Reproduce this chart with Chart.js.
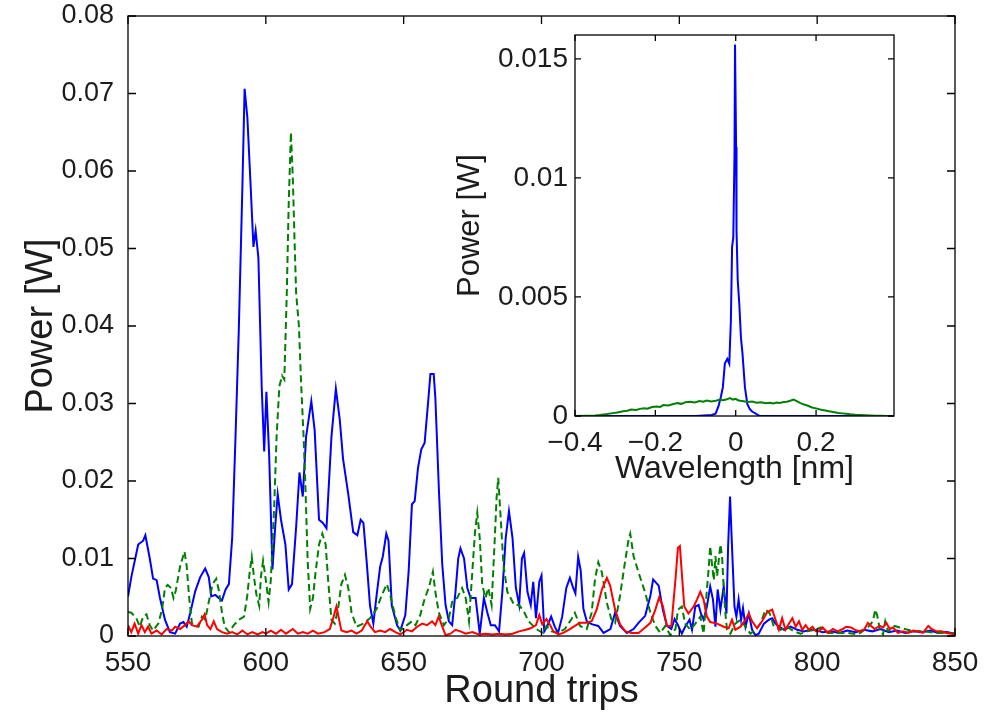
<!DOCTYPE html>
<html>
<head>
<meta charset="utf-8">
<title>Power vs round trips</title>
<script src="https://cdn.jsdelivr.net/npm/chart.js@4.4.1/dist/chart.umd.min.js"></script>
<style>
  html, body { margin: 0; padding: 0; background: #fff; }
  #wrap { position: relative; width: 989px; height: 715px; }
  #main { position: absolute; left: 0; top: 0; }
  #inset { position: absolute; left: 440px; top: 20px; }
</style>
</head>
<body>
<div id="wrap">
  <canvas id="main" width="989" height="715"></canvas>
  <canvas id="inset" width="470" height="475"></canvas>
</div>
<script>
// main plot: peak power per round trip
const blueTrips = [550, 551.2, 553.7, 555.5, 556.3, 557.9, 559.1, 560.4, 561.6, 563.4, 565.2, 567.1, 568.9, 570.1, 571.3, 572.6, 574.4, 576.2, 578, 579.3, 580.2, 581.7, 582.9, 584.1, 585.4, 586.6, 587.8, 589, 590.2, 591.5, 592.3, 593.3, 594.5, 595.5, 596.3, 597.3, 598.5, 599.4, 600.2, 601.2, 602.4, 603.4, 604.3, 605.5, 607.1, 608.3, 609.5, 611, 612.2, 613.4, 614.6, 616.5, 617.7, 619.3, 620.7, 622, 623.8, 625.4, 626.8, 628, 629.9, 631.7, 633.2, 634.4, 635.4, 636.6, 637.8, 639, 640.2, 641.5, 642.4, 643.7, 644.5, 645.7, 647.6, 648.8, 650.6, 651.8, 653, 654, 655.2, 656.4, 657.6, 658.9, 659.7, 660.9, 661.5, 662.8, 664, 665.2, 666.4, 667.6, 668.8, 669.8, 670.6, 671.9, 673.1, 674.3, 676.1, 677.6, 679.1, 680.3, 681.6, 683.1, 684.6, 685.8, 687, 688.2, 689.5, 690.7, 691.9, 692.9, 693.7, 694.9, 696.1, 697, 698, 699.2, 700, 701, 702, 703.5, 704.8, 706, 707.5, 709, 710.3, 711.5, 712.3, 713.3, 714.2, 715.2, 716.5, 718.5, 720.6, 722.5, 725, 726.7, 728.5, 731, 733.4, 735.2, 737.6, 739.5, 740.5, 742.5, 744, 745.5, 747.1, 748.3, 749.5, 750.9, 752.1, 753.7, 754.6, 755.8, 757, 757.8, 758.8, 760, 761.2, 762.2, 763.1, 763.9, 764.9, 766.1, 767.1, 767.7, 768.4, 769.1, 770, 770.7, 771.5, 772.4, 773.1, 774, 775.2, 776.4, 777.6, 778.8, 780.7, 782.5, 783.7, 784.9, 786.1, 788, 790.4, 792.8, 795.2, 797.6, 799, 802, 805, 808, 811, 814, 817, 820, 823, 826, 829, 832, 835, 838, 841, 844, 847, 850];
const bluePower = [0.0051, 0.0076, 0.0118, 0.0123, 0.013, 0.010, 0.0074, 0.0072, 0.0049, 0.0021, 0.0005, 0.0003, 0.0016, 0.0018, 0.0012, 0.003, 0.0058, 0.0076, 0.0087, 0.0076, 0.0051, 0.0053, 0.0049, 0.0046, 0.006, 0.0067, 0.0127, 0.0257, 0.0396, 0.058, 0.0706, 0.0669, 0.058, 0.0502, 0.0523, 0.0488, 0.0322, 0.0238, 0.0315, 0.0234, 0.0086, 0.0141, 0.0183, 0.015, 0.0118, 0.006, 0.0067, 0.0141, 0.0211, 0.018, 0.0257, 0.0303, 0.0266, 0.015, 0.0146, 0.0139, 0.0257, 0.0319, 0.028, 0.0229, 0.0183, 0.0134, 0.013, 0.015, 0.0146, 0.0095, 0.0039, 0.0016, 0.0053, 0.009, 0.0102, 0.0132, 0.0123, 0.0039, 0.0014, 0.0007, 0.0027, 0.0083, 0.017, 0.0174, 0.0217, 0.0241, 0.0249, 0.0303, 0.0338, 0.0338, 0.0307, 0.0187, 0.0092, 0.004, 0.0019, 0.0014, 0.0057, 0.01, 0.0113, 0.01, 0.0062, 0.0049, 0.0049, 0.0003, 0.0049, 0.0031, 0.0014, 0.0014, 0.0006, 0.0057, 0.0126, 0.0161, 0.0126, 0.0062, 0.004, 0.01, 0.0107, 0.0057, 0.004, 0.007, 0.0023, 0.007, 0.0078, 0.0006, 0.0012, 0.0025, 0.0012, 0.0004, 0.0025, 0.0062, 0.0075, 0.0062, 0.0055, 0.0102, 0.0085, 0.0035, 0.0018, 0.0015, 0.0013, 0.0004, 0.0009, 0.003, 0.0013, 0.0004, 0.0009, 0.0017, 0.0026, 0.0052, 0.0073, 0.0065, 0.0034, 0.0013, 0.0009, 0.0022, 0.0014, 0.0003, 0.0012, 0.0021, 0.0008, 0.0038, 0.004, 0.0029, 0.0021, 0.0038, 0.0064, 0.0047, 0.0012, 0.006, 0.0034, 0.0064, 0.0029, 0.0116, 0.018, 0.0116, 0.0038, 0.0025, 0.0047, 0.0021, 0.0036, 0.0012, 0.0029, 0.0008, 0.0001, 0.0003, 0.0016, 0.0021, 0.0023, 0.0016, 0.0012, 0.0008, 0.0012, 0.0008, 0.0006, 0.0008, 0.0008, 0.0005, 0.0006, 0.0004, 0.0007, 0.0005, 0.0008, 0.0006, 0.0009, 0.0005, 0.0007, 0.0004, 0.0006, 0.0005, 0.0007, 0.0004, 0.0005, 0.0003];

const greenTrips = [550, 551.2, 553, 554.3, 555.5, 556.7, 557.9, 559.1, 561, 562.4, 563.4, 564.4, 565.6, 566.5, 567.3, 568.9, 570.5, 571.3, 572.2, 573.2, 574.4, 575.6, 576.8, 578, 579.3, 580.7, 582, 583, 584.1, 585.1, 586.6, 588.4, 590.2, 592.1, 593.3, 594.1, 594.9, 595.7, 596.6, 597.6, 598.2, 599, 600, 601, 601.8, 603, 603.9, 604.9, 605.9, 606.7, 607.6, 608.3, 609.1, 609.8, 610.4, 611, 612, 612.8, 613.7, 614.4, 615.2, 616.1, 617.1, 618, 619.3, 620.5, 621.7, 622.6, 623.8, 625, 626.2, 627.4, 628.7, 629.9, 631.1, 632.9, 635.4, 637.8, 640.2, 642.1, 643.9, 645.1, 647, 648.8, 651.2, 653, 654.3, 656, 657.7, 659.1, 660.6, 661.5, 662.7, 664.6, 666.4, 667.6, 669.4, 671.2, 672.5, 673.7, 674.9, 675.9, 676.7, 677.6, 678.5, 679.7, 680.7, 681.9, 683, 683.7, 684.3, 685.2, 686.2, 687.6, 688.8, 690.1, 691.9, 693.7, 695.3, 696.7, 698.5, 700.6, 701.8, 703.7, 706, 708.5, 710.9, 712.1, 714, 716.4, 718.2, 719.4, 720.6, 721.9, 723.7, 725.3, 726.7, 728.5, 730.1, 731.6, 732.2, 733.4, 735.2, 737.6, 739.5, 741.3, 743.1, 744.9, 746.7, 748.6, 749.5, 750.9, 752.1, 754, 755.8, 757.6, 758.8, 760, 760.6, 761.2, 761.8, 762.5, 763.1, 763.7, 764.3, 764.9, 765.5, 766.1, 766.7, 767.3, 768.5, 770.3, 772.2, 774, 775.8, 777.6, 779.4, 781.3, 782.8, 784.3, 786.7, 789.1, 791.6, 794, 796.4, 798.9, 801.4, 803.9, 807.5, 811.1, 814.8, 818.4, 820.2, 821.1, 821.8, 822.7, 823.9, 824.7, 825.7, 828.1, 829.9, 831.8, 835.4, 839, 842.7, 847.5, 850];
const greenPower = [0.0031, 0.003, 0.0023, 0.0012, 0.0025, 0.0028, 0.0014, 0.0007, 0.0016, 0.0035, 0.0062, 0.0066, 0.0062, 0.0049, 0.0058, 0.009, 0.0109, 0.009, 0.0049, 0.0016, 0.0014, 0.0012, 0.0025, 0.0021, 0.0044, 0.0067, 0.0074, 0.0058, 0.003, 0.0012, 0.0005, 0.0014, 0.0021, 0.0025, 0.0053, 0.0081, 0.0102, 0.0076, 0.0053, 0.0039, 0.0076, 0.0097, 0.0072, 0.0044, 0.0072, 0.0164, 0.0257, 0.0322, 0.0336, 0.0331, 0.0442, 0.0558, 0.065, 0.059, 0.0512, 0.0442, 0.04, 0.0326, 0.0257, 0.0188, 0.0095, 0.0035, 0.0049, 0.0081, 0.0118, 0.0132, 0.0118, 0.0072, 0.0021, 0.0016, 0.0035, 0.0067, 0.0079, 0.0062, 0.003, 0.0012, 0.0016, 0.0023, 0.0035, 0.0053, 0.0067, 0.0053, 0.0025, 0.0007, 0.0014, 0.0019, 0.0014, 0.0027, 0.0049, 0.0062, 0.0083, 0.0057, 0.0031, 0.0014, 0.0023, 0.0044, 0.0049, 0.0062, 0.0049, 0.0019, 0.0083, 0.0135, 0.0159, 0.0126, 0.0066, 0.0049, 0.0062, 0.004, 0.0122, 0.0178, 0.0204, 0.0152, 0.0092, 0.0057, 0.0049, 0.004, 0.004, 0.0031, 0.0019, 0.0014, 0.0008, 0.0004, 0.0013, 0.0006, 0.0004, 0.0009, 0.0022, 0.003, 0.0013, 0.0009, 0.003, 0.0073, 0.0095, 0.0082, 0.0043, 0.0022, 0.0017, 0.0052, 0.0091, 0.0125, 0.0132, 0.0103, 0.0082, 0.0056, 0.003, 0.0013, 0.0004, 0.0013, 0.0001, 0.0009, 0.0034, 0.0038, 0.0016, 0.0008, 0.0016, 0.0025, 0.0003, 0.006, 0.0085, 0.0116, 0.0094, 0.0072, 0.0103, 0.0077, 0.0098, 0.0118, 0.0103, 0.006, 0.0029, 0.0008, 0.0003, 0.0016, 0.0021, 0.0012, 0.0003, 0.0008, 0.0016, 0.0034, 0.0029, 0.0012, 0.0008, 0.0012, 0.0006, 0.0003, 0.0006, 0.0008, 0.0011, 0.0004, 0.0004, 0.0004, 0.0002, 0.0011, 0.0019, 0.0034, 0.0026, 0.0009, 0.0002, 0.0019, 0.0006, 0.0013, 0.0011, 0.0009, 0.0006, 0.0006, 0.0004, 0.0004, 0.0003];

const redTrips = [550, 551.2, 552.4, 553.7, 554.9, 556.1, 557.3, 558.5, 560.4, 562.2, 564, 565.9, 567.1, 568.9, 570.7, 572, 573.2, 575, 576.8, 577.8, 578.7, 579.9, 581.1, 582.3, 584.1, 586, 587.8, 589.6, 591.5, 593.3, 595.1, 597, 598.8, 600, 601.8, 603.7, 605.5, 607.3, 609.8, 611.6, 613.4, 615.2, 617.1, 618.9, 621.3, 623.2, 624.6, 625.6, 626.6, 627.4, 629.3, 631.1, 632.9, 634.8, 636.8, 638, 639.6, 641.5, 643.3, 645.1, 647, 648.8, 651.2, 653, 654.9, 656.7, 658.5, 660.3, 661.5, 662.7, 664, 665.2, 667, 668.8, 670.6, 672.5, 674.9, 677.3, 679.7, 682.2, 684.6, 687, 689.5, 691.9, 694.3, 696.1, 698, 699.2, 700.3, 701.8, 703, 704.3, 706.1, 707.9, 710.3, 712.1, 714, 716.4, 718.2, 720, 721.9, 723.7, 724.9, 726.7, 728.5, 730.4, 732.8, 735.2, 737.6, 739.5, 741.3, 742.7, 744, 745.5, 747.1, 748.6, 749.5, 750.2, 750.9, 751.8, 753.3, 755.2, 756.4, 757.6, 758.8, 760, 761.2, 763.7, 766.1, 767.9, 769.1, 770.3, 772.2, 774, 775.2, 776.4, 778.2, 780, 781.9, 783.7, 784.9, 786.1, 787.3, 788.5, 789.8, 791, 792.2, 793.4, 794.6, 795.8, 797, 798.3, 799.5, 800.5, 802, 803.9, 805.7, 807.5, 809.3, 810.5, 812.3, 814.2, 816, 817.2, 818.4, 819.6, 820.8, 822.7, 823.9, 825.1, 826.3, 827.5, 829.3, 831.2, 833, 834.8, 836.6, 838.4, 840.3, 841.5, 843.3, 845.1, 846.9, 848.8, 850];
const redPower = [0.0014, 0.0005, 0.0016, 0.0003, 0.0014, 0.0005, 0.0012, 0.0003, 0.0007, 0.0002, 0.0009, 0.0007, 0.0012, 0.0009, 0.0014, 0.0019, 0.0014, 0.0012, 0.0021, 0.0028, 0.0014, 0.0009, 0.0019, 0.0009, 0.0005, 0.0003, 0.0005, 0.0002, 0.0007, 0.0002, 0.0005, 0.0002, 0.0005, 0.0003, 0.0007, 0.0003, 0.0008, 0.0003, 0.0009, 0.0003, 0.0005, 0.0003, 0.0007, 0.0003, 0.0005, 0.0009, 0.0025, 0.0038, 0.0021, 0.0007, 0.0005, 0.0007, 0.0003, 0.0007, 0.0019, 0.0012, 0.0005, 0.0007, 0.0005, 0.0009, 0.0005, 0.0002, 0.0008, 0.0006, 0.0012, 0.0016, 0.0014, 0.0019, 0.0014, 0.0025, 0.0012, 0.0001, 0.0003, 0.0008, 0.0006, 0.0003, 0.0005, 0.0002, 0.0003, 0.0002, 0.0003, 0.0002, 0.0003, 0.0006, 0.0008, 0.001, 0.0014, 0.0027, 0.0015, 0.0022, 0.0015, 0.0006, 0.0002, 0.0004, 0.0009, 0.0013, 0.0017, 0.0017, 0.0019, 0.0034, 0.006, 0.0075, 0.0065, 0.0034, 0.0015, 0.0006, 0.0004, 0.0004, 0.0011, 0.0017, 0.0034, 0.005, 0.0039, 0.0013, 0.0013, 0.0073, 0.0114, 0.0116, 0.0081, 0.0038, 0.0029, 0.0038, 0.0047, 0.0057, 0.0047, 0.0025, 0.0018, 0.0016, 0.0012, 0.001, 0.0021, 0.0008, 0.0012, 0.0021, 0.0029, 0.0019, 0.001, 0.0019, 0.0031, 0.0034, 0.0021, 0.0008, 0.0023, 0.0008, 0.0016, 0.0023, 0.0012, 0.0019, 0.0008, 0.0014, 0.0008, 0.0012, 0.0006, 0.0006, 0.0011, 0.0004, 0.0009, 0.0006, 0.0009, 0.0012, 0.0011, 0.0007, 0.0006, 0.0009, 0.0017, 0.0013, 0.0009, 0.0013, 0.0011, 0.0017, 0.0009, 0.0011, 0.0004, 0.0006, 0.0004, 0.0007, 0.0006, 0.0004, 0.0013, 0.0009, 0.0006, 0.0006, 0.0004, 0.0003, 0.0002];

const tripTicks = [550, 600, 650, 700, 750, 800, 850];
const powerTicks = [0, 0.01, 0.02, 0.03, 0.04, 0.05, 0.06, 0.07, 0.08];

// inset: spectra against wavelength offset
const specBlueNm = [-0.4, -0.2, -0.1, -0.06, -0.05, -0.043, -0.037, -0.032, -0.027, -0.021, -0.016, -0.012, -0.009, -0.006, -0.003, -0.0017, 0.001, 0.002, 0.005, 0.009, 0.013, 0.017, 0.023, 0.029, 0.035, 0.04, 0.06, 0.1, 0.2, 0.394];
const specBluePower = [0, 0, 0, 0.00004, 0.0001, 0.0004, 0.0008, 0.0012, 0.0022, 0.0024, 0.0022, 0.004, 0.0071, 0.0075, 0.011, 0.0156, 0.0113, 0.0078, 0.0057, 0.0047, 0.0033, 0.0026, 0.0012, 0.0005, 0.0003, 0.0002, 0, 0, 0, 0];
const specGreenNm = [-0.4, -0.37, -0.35, -0.338, -0.32, -0.31, -0.295, -0.28, -0.27, -0.26, -0.248, -0.238, -0.228, -0.22, -0.208, -0.197, -0.188, -0.18, -0.168, -0.155, -0.145, -0.135, -0.125, -0.114, -0.102, -0.09, -0.081, -0.072, -0.061, -0.05, -0.04, -0.031, -0.022, -0.014, -0.007, 0, 0.006, 0.011, 0.02, 0.03, 0.041, 0.052, 0.063, 0.075, 0.085, 0.094, 0.102, 0.11, 0.119, 0.127, 0.136, 0.144, 0.152, 0.16, 0.17, 0.18, 0.19, 0.2, 0.21, 0.22, 0.232, 0.243, 0.255, 0.265, 0.275, 0.285, 0.298, 0.31, 0.322, 0.335, 0.348, 0.36, 0.378, 0.394];
const specGreenPower = [0, 0.00001, 0.00002, 0.00004, 0.00008, 0.00011, 0.00015, 0.0002, 0.00022, 0.00027, 0.00025, 0.0003, 0.00033, 0.00031, 0.00038, 0.0004, 0.00038, 0.00046, 0.00044, 0.0005, 0.00054, 0.00051, 0.00058, 0.0006, 0.00057, 0.00063, 0.0006, 0.00065, 0.00061, 0.00064, 0.00068, 0.00066, 0.0007, 0.00075, 0.00069, 0.00072, 0.00066, 0.00064, 0.00062, 0.00059, 0.00061, 0.00056, 0.00058, 0.00054, 0.00056, 0.00053, 0.00057, 0.00055, 0.00059, 0.0006, 0.00064, 0.00069, 0.00062, 0.00055, 0.00048, 0.00043, 0.00036, 0.00032, 0.00027, 0.00024, 0.0002, 0.00017, 0.00013, 0.00011, 0.00009, 0.00007, 0.00005, 0.00004, 0.00003, 0.00002, 0.00001, 0.00001, 0, 0];

const nmTicks = [-0.4, -0.2, 0, 0.2];
const specTicks = [0, 0.005, 0.01, 0.015];

const textColor = '#1c1c1c';
const family = "'Liberation Sans', Arial, Helvetica, sans-serif";

function pairs(xs, ys) {
  return xs.map((x, i) => ({ x: x, y: ys[i] }));
}

// draws the box and matlab style inward ticks on all four sides
const boxTicks = {
  id: 'boxTicks',
  beforeDraw(chart) {
    const { ctx, chartArea: a } = chart;
    ctx.save();
    ctx.fillStyle = '#fff';
    ctx.fillRect(a.left, a.top, a.right - a.left, a.bottom - a.top);
    ctx.restore();
  },
  afterDraw(chart, args, opts) {
    const { ctx, chartArea: a, scales } = chart;
    const len = opts.len || 8;
    ctx.save();
    ctx.strokeStyle = '#000';
    ctx.lineWidth = 1.3;
    ctx.strokeRect(a.left, a.top, a.right - a.left, a.bottom - a.top);
    ctx.beginPath();
    scales.x.ticks.forEach(t => {
      const px = scales.x.getPixelForValue(t.value);
      ctx.moveTo(px, a.bottom); ctx.lineTo(px, a.bottom - len);
      ctx.moveTo(px, a.top); ctx.lineTo(px, a.top + len);
    });
    scales.y.ticks.forEach(t => {
      const py = scales.y.getPixelForValue(t.value);
      ctx.moveTo(a.left, py); ctx.lineTo(a.left + len, py);
      ctx.moveTo(a.right, py); ctx.lineTo(a.right - len, py);
    });
    ctx.stroke();
    ctx.restore();
  }
};

function line(data, color, width, dash) {
  return {
    data: data,
    showLine: true,
    borderColor: color,
    backgroundColor: color,
    borderWidth: width,
    borderDash: dash || [],
    pointRadius: 0,
    tension: 0,
    fill: false
  };
}

// fixed box sizes so the plot frame lands where it should
function fixY(width) {
  return s => { s.width = width; s.paddingTop = 0; s.paddingBottom = 0; };
}
function fixX(height) {
  return s => { s.height = height; s.paddingLeft = 0; s.paddingRight = 0; };
}

new Chart(document.getElementById('main'), {
  type: 'scatter',
  data: {
    datasets: [
      Object.assign(line(pairs(blueTrips, bluePower), '#0000ff', 2), { order: 3 }),
      Object.assign(line(pairs(greenTrips, greenPower), '#008000', 2, [7, 4]), { order: 2 }),
      Object.assign(line(pairs(redTrips, redPower), '#ff0000', 2), { order: 1 })
    ]
  },
  options: {
    responsive: false,
    animation: false,
    events: [],
    layout: { padding: { top: 16, right: 34, left: 0, bottom: 0 } },
    plugins: { legend: { display: false }, tooltip: { enabled: false }, boxTicks: { len: 8 } },
    scales: {
      x: {
        type: 'linear',
        min: 550,
        max: 850,
        afterFit: fixX(79),
        afterBuildTicks: s => { s.ticks = tripTicks.map(v => ({ value: v })); },
        grid: { display: false },
        border: { display: false },
        ticks: { color: textColor, font: { family: family, size: 28 }, padding: 2, maxRotation: 0 },
        title: { display: true, text: 'Round trips', color: textColor, font: { family: family, size: 38, lineHeight: 1 }, padding: { bottom: 4 } }
      },
      y: {
        type: 'linear',
        min: 0,
        max: 0.08,
        afterFit: fixY(128),
        afterBuildTicks: s => { s.ticks = powerTicks.map(v => ({ value: v })); },
        grid: { display: false },
        border: { display: false },
        ticks: { color: textColor, font: { family: family, size: 27 }, padding: 6, callback: v => String(+v.toFixed(2)) },
        title: { display: true, text: 'Power [W]', color: textColor, font: { family: family, size: 38, lineHeight: 1 }, padding: { top: 23 } }
      }
    }
  },
  plugins: [boxTicks]
});

new Chart(document.getElementById('inset'), {
  type: 'scatter',
  data: {
    datasets: [
      Object.assign(line(pairs(specBlueNm, specBluePower), '#0000ff', 2), { order: 2 }),
      Object.assign(line(pairs(specGreenNm, specGreenPower), '#008000', 2), { order: 1 })
    ]
  },
  options: {
    responsive: false,
    animation: false,
    events: [],
    layout: { padding: { top: 15, right: 16, left: 0, bottom: 0 } },
    plugins: { legend: { display: false }, tooltip: { enabled: false }, boxTicks: { len: 6 } },
    scales: {
      x: {
        type: 'linear',
        min: -0.4,
        max: 0.394,
        afterFit: fixX(79),
        afterBuildTicks: s => { s.ticks = nmTicks.map(v => ({ value: v })); },
        grid: { display: false },
        border: { display: false },
        ticks: { color: textColor, font: { family: family, size: 28 }, padding: 2, maxRotation: 0,
          callback: v => (v < 0 ? '\u2212' + String(+(-v).toFixed(1)) : String(+v.toFixed(1))) },
        title: { display: true, text: 'Wavelength [nm]', color: textColor, font: { family: family, size: 32, lineHeight: 1 }, padding: { bottom: 10 } }
      },
      y: {
        type: 'linear',
        min: 0,
        max: 0.016,
        afterFit: fixY(135),
        afterBuildTicks: s => { s.ticks = specTicks.map(v => ({ value: v })); },
        grid: { display: false },
        border: { display: false },
        ticks: { color: textColor, font: { family: family, size: 28 }, padding: -1, callback: v => String(+v.toFixed(3)) },
        title: { display: true, text: 'Power [W]', color: textColor, font: { family: family, size: 31, lineHeight: 1 }, padding: { top: 15 } }
      }
    }
  },
  plugins: [boxTicks]
});
</script>
</body>
</html>
